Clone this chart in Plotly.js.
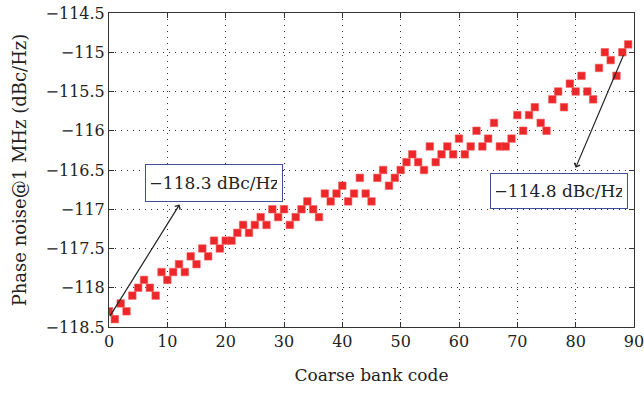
<!DOCTYPE html>
<html>
<head>
<meta charset="utf-8">
<script src="https://cdn.plot.ly/plotly-3.0.1.min.js"></script>
<style>html,body{margin:0;padding:0;background:#fff;}#chart{width:644px;height:396px;}</style>
</head>
<body>
<div id="chart"></div>
<script>
const codes = [];
for (let i = 0; i < 90; i++) codes.push(i);
const phaseNoise = [
  -118.3, -118.4, -118.2, -118.3, -118.1, -118.0, -117.9, -118.0, -118.1, -117.8,
  -117.9, -117.8, -117.7, -117.8, -117.6, -117.7, -117.5, -117.6, -117.4, -117.5,
  -117.4, -117.4, -117.3, -117.2, -117.3, -117.2, -117.1, -117.2, -117.0, -117.1,
  -117.0, -117.2, -117.1, -117.0, -116.9, -117.0, -117.1, -116.8, -116.9, -116.8,
  -116.7, -116.9, -116.8, -116.6, -116.8, -116.9, -116.6, -116.5, -116.7, -116.6,
  -116.5, -116.4, -116.3, -116.4, -116.5, -116.2, -116.4, -116.3, -116.2, -116.3,
  -116.1, -116.3, -116.2, -116.0, -116.2, -116.1, -115.9, -116.2, -116.2, -116.1,
  -115.8, -116.0, -115.8, -115.7, -115.9, -116.0, -115.6, -115.5, -115.7, -115.4,
  -115.5, -115.3, -115.5, -115.6, -115.2, -115.0, -115.1, -115.3, -115.0, -114.9
];
const labelStart = "−118.3 dBc/Hz";
const labelEnd = "−114.8 dBc/Hz";

const serif = "DejaVu Serif, serif";

const trace = {
  x: codes, y: phaseNoise, type: 'scatter', mode: 'markers',
  marker: {symbol: 'square', size: 7.5, color: '#ec2629', line: {width: 0.6, color: '#f25a5a'}},
  hoverinfo: 'skip'
};

const axisCommon = {
  showline: true, linecolor: '#333', linewidth: 1, mirror: 'ticks',
  ticks: 'inside', ticklen: 5, tickcolor: '#333',
  showgrid: true, gridcolor: '#333', griddash: '1px,5px', gridwidth: 1,
  zeroline: false, ticklabeloverflow: 'allow',
  tickfont: {family: serif, size: 16, color: '#222'}
};

const layout = {
  width: 644, height: 396,
  margin: {l: 109, r: 10, t: 13, b: 69},
  paper_bgcolor: '#fff', plot_bgcolor: '#fff',
  showlegend: false,
  xaxis: Object.assign({}, axisCommon, {
    range: [0, 90], dtick: 10, tick0: 0,
    title: {text: 'Coarse bank code', font: {family: serif, size: 17, color: '#222'}, standoff: 18}
  }),
  yaxis: Object.assign({}, axisCommon, {
    range: [-118.5, -114.5], dtick: 0.5, tick0: -118.5,
    title: {text: 'Phase noise@1 MHz (dBc/Hz)', font: {family: serif, size: 18, color: '#222'}, standoff: 14}
  }),
  annotations: [
    {x: 12.1, y: -116.94, ax: 0, ay: -118.38, axref: 'x', ayref: 'y', xref: 'x', yref: 'y',
     showarrow: true, arrowhead: 4, arrowsize: 1, arrowwidth: 1.2, arrowcolor: '#222', text: ''},
    {x: 80.0, y: -116.47, ax: 88.3, ay: -115.02, axref: 'x', ayref: 'y', xref: 'x', yref: 'y',
     showarrow: true, arrowhead: 4, arrowsize: 1, arrowwidth: 1.2, arrowcolor: '#222', text: ''},
    {x: 18.0, y: -116.67, xref: 'x', yref: 'y', text: labelStart, showarrow: false,
     font: {family: serif, size: 17, color: '#222'}, bgcolor: '#fff',
     bordercolor: '#3e4f9e', borderwidth: 1, borderpad: 5, width: 126, height: 26},
    {x: 77.1, y: -116.77, xref: 'x', yref: 'y', text: labelEnd, showarrow: false,
     font: {family: serif, size: 17, color: '#222'}, bgcolor: '#fff',
     bordercolor: '#3e4f9e', borderwidth: 1, borderpad: 5, width: 126, height: 24}
  ]
};

Plotly.newPlot('chart', [trace], layout, {displayModeBar: false, staticPlot: true});
</script>
</body>
</html>
